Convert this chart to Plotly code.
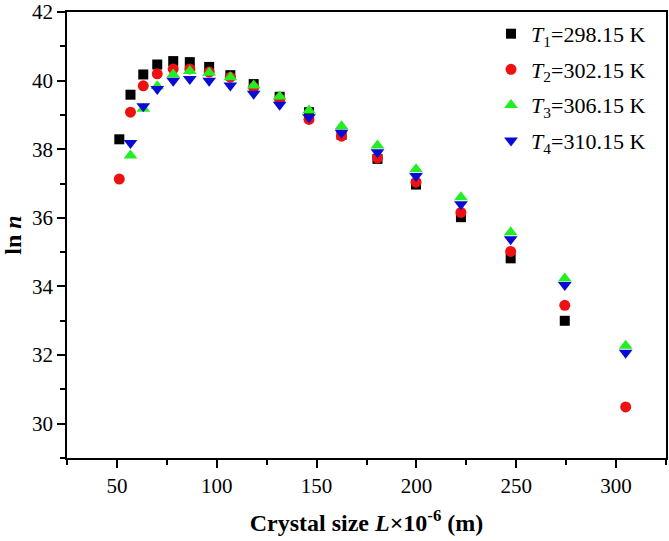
import plotly.graph_objects as go

# crystal size L (x10^-6 m)
sizes = [51.2, 56.8, 63.2, 70.2, 78.2, 86.5, 96.2, 106.8, 118.5, 131.5,
         146.2, 162.5, 180.5, 199.8, 222.3, 247.2, 274.3, 304.8]

# ln n at each temperature
ln_n_t1 = [38.29, 39.59, 40.18, 40.47, 40.57, 40.54, 40.40, 40.16, 39.90, 39.53,
           39.08, 38.42, 37.72, 36.97, 36.02, 34.82, 33.00, None]
ln_n_t2 = [37.13, 39.08, 39.85, 40.20, 40.34, 40.34, 40.25, 40.10, 39.80, 39.47,
           38.87, 38.38, 37.75, 37.04, 36.16, 35.02, 33.45, 30.49]
ln_n_t3 = [None, 37.82, 39.18, 39.84, 40.18, 40.28, 40.23, 40.10, 39.86, 39.54,
           39.13, 38.67, 38.11, 37.42, 36.60, 35.58, 34.23, 32.27]
ln_n_t4 = [None, 38.18, 39.25, 39.76, 40.00, 40.05, 40.00, 39.86, 39.62, 39.30,
           38.93, 38.48, 37.91, 37.22, 36.40, 35.38, 34.04, 32.07]

names = ["<i>T</i><sub>1</sub>=298.15 K", "<i>T</i><sub>2</sub>=302.15 K",
         "<i>T</i><sub>3</sub>=306.15 K", "<i>T</i><sub>4</sub>=310.15 K"]
series = [ln_n_t1, ln_n_t2, ln_n_t3, ln_n_t4]
symbols = ["square", "circle", "triangle-up", "triangle-down"]
colors = ["#000000", "#ee1111", "#22ee22", "#0a0ad6"]
msizes = [10, 11, 12, 12]

font = "Liberation Serif, Times New Roman, serif"

fig = go.Figure()
for i, (name, vals, sym, col, ms) in enumerate(zip(names, series, symbols, colors, msizes)):
    fig.add_trace(go.Scatter(
        x=sizes, y=vals, mode="markers", name=name, legendgroup=str(i),
        marker=dict(symbol=sym, color=col, size=ms, line=dict(width=0)),
    ))

axis_style = dict(
    showline=True, linecolor="black", linewidth=1.5, mirror=True,
    ticks="outside", ticklen=8, tickwidth=1.5, tickcolor="black",
    showgrid=False, zeroline=False, automargin=False,
    tickfont=dict(family=font, size=21, color="black"),
)

fig.update_layout(
    width=669, height=541,
    margin=dict(l=67, r=3, t=12, b=83),
    paper_bgcolor="white", plot_bgcolor="white",
    font=dict(family=font, color="black"),
    xaxis=dict(
        range=[25, 325], tick0=0, dtick=50,
        minor=dict(dtick=25, tick0=0, ticks="outside", ticklen=5, tickcolor="black",
                   tickwidth=1.5),
        title=dict(text="<b>Crystal size <i>L</i>×10<sup>-6</sup> (m)</b>",
                   font=dict(family=font, size=24), standoff=17),
        **axis_style,
    ),
    yaxis=dict(
        range=[29, 42.001], tick0=0, dtick=2,
        minor=dict(dtick=1, tick0=0, ticks="outside", ticklen=5, tickcolor="black",
                   tickwidth=1.5),
        title=dict(text="<b>ln <i>n</i></b>", font=dict(family=font, size=24), standoff=12),
        **axis_style,
    ),
    legend=dict(
        x=0.975, y=0.998, xanchor="right", yanchor="top",
        bgcolor="rgba(0,0,0,0)", borderwidth=0,
        font=dict(family=font, size=22, color="black"),
        itemwidth=30, tracegroupgap=4,
    ),
)

# drop the default page margin so the figure sits at the window's corner
fig.write_html("out.html", config={"displayModeBar": False},
               post_script="document.body.style.margin='0';document.body.style.overflow='hidden';")
